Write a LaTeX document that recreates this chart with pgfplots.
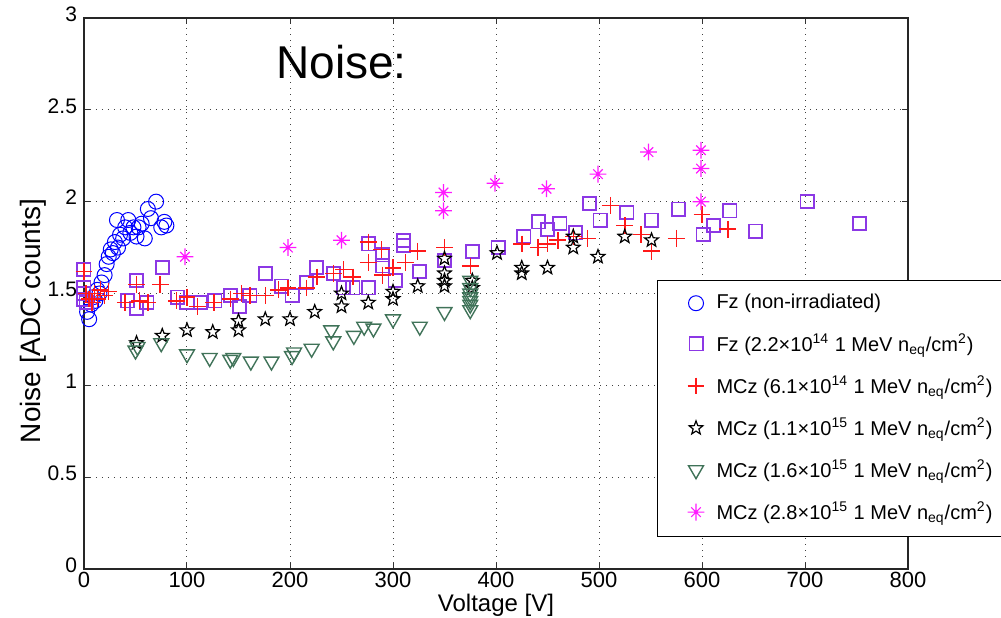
\documentclass[border=0pt]{standalone}
\usepackage{fontspec}
\setmainfont{Liberation Sans}
\usepackage{pgfplots}
\pgfplotsset{compat=1.18}

\definecolor{cBlue}{rgb}{0,0,1}
\definecolor{cPurple}{rgb}{0.55,0.22,0.9}
\definecolor{cRed}{rgb}{1,0.1,0.1}
\definecolor{cGreen}{rgb}{0.25,0.45,0.35}
\definecolor{cMag}{rgb}{1,0.1,1}

% open five-point star
\pgfdeclareplotmark{ostar}{%
  \pgfpathmoveto{\pgfpointpolar{90}{\pgfplotmarksize}}%
  \pgfpathlineto{\pgfpointpolar{126}{0.42\pgfplotmarksize}}%
  \pgfpathlineto{\pgfpointpolar{162}{\pgfplotmarksize}}%
  \pgfpathlineto{\pgfpointpolar{198}{0.42\pgfplotmarksize}}%
  \pgfpathlineto{\pgfpointpolar{234}{\pgfplotmarksize}}%
  \pgfpathlineto{\pgfpointpolar{270}{0.42\pgfplotmarksize}}%
  \pgfpathlineto{\pgfpointpolar{306}{\pgfplotmarksize}}%
  \pgfpathlineto{\pgfpointpolar{342}{0.42\pgfplotmarksize}}%
  \pgfpathlineto{\pgfpointpolar{18}{\pgfplotmarksize}}%
  \pgfpathlineto{\pgfpointpolar{54}{0.42\pgfplotmarksize}}%
  \pgfpathclose\pgfusepathqstroke}
% matlab style asterisk (plus and cross)
\pgfdeclareplotmark{mstar}{%
  \pgfpathmoveto{\pgfqpoint{-\pgfplotmarksize}{0pt}}%
  \pgfpathlineto{\pgfqpoint{\pgfplotmarksize}{0pt}}%
  \pgfpathmoveto{\pgfqpoint{0pt}{-\pgfplotmarksize}}%
  \pgfpathlineto{\pgfqpoint{0pt}{\pgfplotmarksize}}%
  \pgfpathmoveto{\pgfpointpolar{45}{0.8\pgfplotmarksize}}%
  \pgfpathlineto{\pgfpointpolar{225}{0.8\pgfplotmarksize}}%
  \pgfpathmoveto{\pgfpointpolar{135}{0.8\pgfplotmarksize}}%
  \pgfpathlineto{\pgfpointpolar{315}{0.8\pgfplotmarksize}}%
  \pgfusepathqstroke
  \pgfpathcircle{\pgfpointorigin}{0.2\pgfplotmarksize}\pgfusepathqfill}

% legend image: mark set in from the left, gap before the text
\pgfplotsset{mleg/.style={legend image code/.code={%
    \path (0pt,0pt) (24pt,0pt);
    \draw[#1] plot coordinates {(16pt,0pt)};}}}

\begin{document}
\begin{tikzpicture}
\begin{axis}[
    scale only axis,
    width=412pt, height=275.5pt,
    xmin=0, xmax=800, ymin=0, ymax=3,
    xtick={0,100,200,300,400,500,600,700,800},
    ytick={0,0.5,1,1.5,2,2.5,3},
    clip=false,
    grid=major,
    grid style={black!75, line width=0.5pt, dash pattern=on 0.5pt off 2.5pt},
    axis line style={black!85, line width=0.8pt},
    tick align=inside, major tick length=3pt,
    tick style={black!80, line width=0.5pt},
    /pgf/number format/assume math mode=true,
    x tick label style={font=\fontsize{11}{11}\selectfont, yshift=2pt},
    y tick label style={font=\fontsize{10.5}{10.5}\selectfont, yshift=2pt},
    xlabel={Voltage [V]},
    ylabel={Noise [ADC counts]},
    xlabel style={font=\fontsize{12}{12}\selectfont, at={(axis description cs:0.5,-0.065)}, anchor=center},
    ylabel style={font=\fontsize{14}{14}\selectfont, at={(axis description cs:-0.062,0.45)}, anchor=center},
    legend cell align=left,
    legend style={at={(0.6954,0.5245)}, anchor=north west, draw=black,
        line width=0.5pt, fill=white, font=\fontsize{10}{12}\selectfont,
        row sep=7pt, inner xsep=3pt, inner ysep=5pt,
        /tikz/every even column/.append style={column sep=4pt}},
]
\coordinate (ll) at (rel axis cs:0,0);
\coordinate (ur) at (rel axis cs:1,1);

\addplot[only marks, mleg, mark=o, color=cBlue, mark size=3.75pt, mark options={line width=0.5pt}]
coordinates {
(3,1.40)(5,1.36)(7,1.44)(9,1.48)(11,1.46)(13,1.52)(15,1.50)(17,1.56)(20,1.60)
(22,1.66)(24,1.70)(26,1.74)(28,1.72)(30,1.78)(32,1.90)(33,1.75)(35,1.82)(38,1.80)
(40,1.86)(43,1.90)(45,1.83)(48,1.86)(51,1.81)(53,1.86)(56,1.88)(59,1.80)(62,1.96)
(65,1.91)(70,2.00)(75,1.86)(78,1.89)(80,1.87)
};
\addlegendentry{Fz (non-irradiated)}

\addplot[only marks, mleg, mark=square, color=cPurple, mark size=3.3pt, mark options={line width=0.9pt}]
coordinates {
(0,1.63)(0,1.53)(0,1.50)(0,1.47)(2,1.45)
(42,1.46)(51,1.57)(51,1.42)(61,1.45)(76,1.64)(91,1.48)(100,1.45)(113,1.45)
(127,1.46)(142,1.49)(151,1.43)(161,1.49)(176,1.61)(192,1.54)(202,1.49)(216,1.56)
(226,1.64)(242,1.61)(252,1.53)(261,1.53)(276,1.53)(276,1.77)(290,1.71)(290,1.65)
(310,1.79)(310,1.76)(302,1.57)(326,1.62)(350,1.68)(377,1.73)(402,1.75)(427,1.81)
(441,1.89)(450,1.85)(462,1.88)(477,1.83)(491,1.99)(501,1.90)(527,1.94)(551,1.90)
(577,1.96)(601,1.82)(611,1.87)(627,1.95)(652,1.84)(702,2.00)(753,1.88)
};
\addlegendentry{Fz (2.2×10\textsuperscript{14} 1 MeV n\textsubscript{eq}/cm\textsuperscript{2})}

\addplot[only marks, mleg, mark=+, color=cRed, mark size=4.2pt, mark options={line width=0.75pt}]
coordinates {
(0,1.62)(2,1.50)(5,1.47)(8,1.45)(10,1.50)(13,1.47)(16,1.52)(20,1.49)(24,1.51)
(40,1.45)(51,1.55)(54,1.46)(62,1.45)(74,1.55)(90,1.46)(100,1.48)(110,1.43)
(126,1.45)(142,1.47)(153,1.50)(161,1.49)(176,1.49)(189,1.52)(198,1.53)(216,1.53)
(226,1.59)(242,1.61)(252,1.63)(261,1.59)(276,1.67)(276,1.78)(289,1.74)(290,1.60)
(300,1.64)(312,1.67)(324,1.73)(350,1.75)(375,1.65)(425,1.77)(441,1.75)(450,1.77)
(460,1.79)(475,1.81)(489,1.80)(511,1.98)(525,1.87)(541,1.82)(551,1.73)(575,1.80)
(600,1.93)(625,1.85)
};
\addlegendentry{MCz (6.1×10\textsuperscript{14} 1 MeV n\textsubscript{eq}/cm\textsuperscript{2})}

\addplot[only marks, mleg, mark=ostar, color=black, mark size=3.6pt, mark options={line width=0.6pt}]
coordinates {
(51,1.23)(76,1.27)(100,1.30)(125,1.29)(150,1.35)(150,1.30)(176,1.36)(200,1.36)
(224,1.40)(250,1.50)(250,1.43)(276,1.45)(300,1.51)(300,1.47)(324,1.54)(350,1.69)
(350,1.61)(350,1.57)(350,1.54)(377,1.57)(377,1.53)(401,1.72)(425,1.64)(425,1.61)
(450,1.64)(475,1.81)(475,1.75)(499,1.70)(525,1.81)(551,1.79)
};
\addlegendentry{MCz (1.1×10\textsuperscript{15} 1 MeV n\textsubscript{eq}/cm\textsuperscript{2})}

\addplot[only marks, mleg, mark=triangle, color=cGreen, mark size=4.3pt, mark options={rotate=180, line width=0.7pt}]
coordinates {
(50,1.19)(52,1.21)(75,1.23)(100,1.17)(122,1.15)(142,1.14)(145,1.15)(162,1.13)
(182,1.13)(202,1.16)(204,1.18)(221,1.20)(240,1.30)(242,1.24)(262,1.27)(272,1.32)
(281,1.31)(300,1.36)(326,1.32)(350,1.40)(375,1.41)(375,1.44)(375,1.46)(375,1.48)
(375,1.50)(375,1.53)(375,1.57)
};
\addlegendentry{MCz (1.6×10\textsuperscript{15} 1 MeV n\textsubscript{eq}/cm\textsuperscript{2})}

\addplot[only marks, mleg, mark=mstar, color=cMag, mark size=4.2pt, mark options={line width=0.6pt, fill=cMag}]
coordinates {
(98,1.70)(198,1.75)(250,1.79)(349,2.05)(349,1.95)(399,2.10)(449,2.07)(499,2.15)
(548,2.27)(599,2.28)(599,2.18)(599,2.00)
};
\addlegendentry{MCz (2.8×10\textsuperscript{15} 1 MeV n\textsubscript{eq}/cm\textsuperscript{2})}

\node[font=\fontsize{23}{23}\selectfont] at (axis cs:250,2.76) {Noise:};
\end{axis}
\pgfresetboundingbox
\path[use as bounding box] ([shift={(-42pt,-24.5pt)}]ll) rectangle ([shift={(46.5pt,9pt)}]ur);
\end{tikzpicture}
\end{document}
